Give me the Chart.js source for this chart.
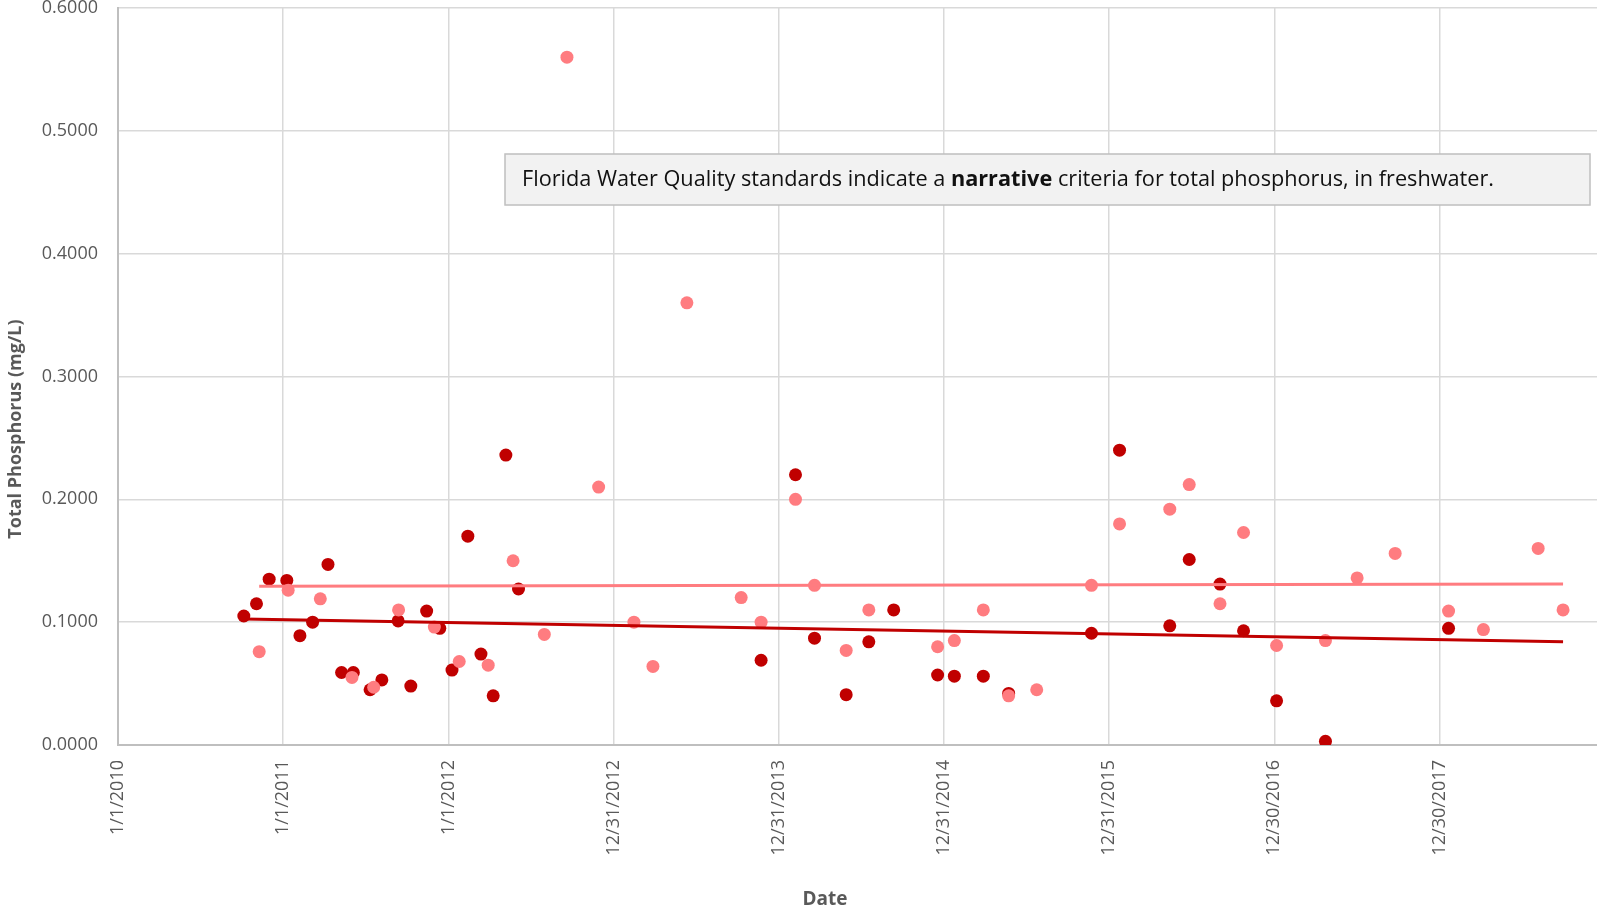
<!DOCTYPE html>
<html>
<head>
<meta charset="utf-8">
<title>Total Phosphorus</title>
<script src="https://cdn.jsdelivr.net/npm/chart.js@4.4.1/dist/chart.umd.min.js"></script>
<style>
  html, body { margin: 0; padding: 0; background: #ffffff; }
  canvas { display: block; }
</style>
</head>
<body>
<canvas id="tpChart" width="1597" height="910"></canvas>
<script>
// sampling dates and values
const darkDates = [
  "2010-10-06", "2010-11-03", "2010-12-01", "2011-01-09", "2011-02-07", "2011-03-07",
  "2011-04-10", "2011-05-10", "2011-06-05", "2011-07-12", "2011-08-07", "2011-09-12",
  "2011-10-10", "2011-11-14", "2011-12-13", "2012-01-09", "2012-02-13", "2012-03-13",
  "2012-04-09", "2012-05-07", "2012-06-04", "2013-11-22", "2014-02-06", "2014-03-20",
  "2014-05-29", "2014-07-18", "2014-09-11", "2014-12-17", "2015-01-23", "2015-03-28",
  "2015-05-23", "2015-11-22", "2016-01-23", "2016-05-13", "2016-06-25", "2016-09-01",
  "2016-10-23", "2017-01-04", "2017-04-22", "2018-01-19"
];
const darkValues = [
  0.105, 0.115, 0.135, 0.134, 0.089, 0.100,
  0.147, 0.059, 0.059, 0.045, 0.053, 0.101,
  0.048, 0.109, 0.095, 0.061, 0.170, 0.074,
  0.040, 0.236, 0.127, 0.069, 0.220, 0.087,
  0.041, 0.084, 0.110, 0.057, 0.056, 0.056,
  0.042, 0.091, 0.240, 0.097, 0.151, 0.131,
  0.093, 0.036, 0.003, 0.095
];

const pinkDates = [
  "2010-11-09", "2011-01-12", "2011-03-24", "2011-06-02", "2011-07-20", "2011-09-13",
  "2011-12-01", "2012-01-25", "2012-03-29", "2012-05-23", "2012-07-31", "2012-09-19",
  "2012-11-28", "2013-02-14", "2013-03-28", "2013-06-11", "2013-10-09", "2013-11-22",
  "2014-02-06", "2014-03-20", "2014-05-29", "2014-07-18", "2014-12-17", "2015-01-23",
  "2015-03-28", "2015-05-23", "2015-07-24", "2015-11-22", "2016-01-23", "2016-05-13",
  "2016-06-25", "2016-09-01", "2016-10-23", "2017-01-04", "2017-04-22", "2017-07-01",
  "2017-09-23", "2018-01-19", "2018-04-06", "2018-08-05", "2018-09-29"
];
const pinkValues = [
  0.076, 0.126, 0.119, 0.055, 0.047, 0.110,
  0.096, 0.068, 0.065, 0.150, 0.090, 0.560,
  0.210, 0.100, 0.064, 0.360, 0.120, 0.100,
  0.200, 0.130, 0.077, 0.110, 0.080, 0.085,
  0.110, 0.040, 0.045, 0.130, 0.180, 0.192,
  0.212, 0.115, 0.173, 0.081, 0.085, 0.136,
  0.156, 0.109, 0.094, 0.160, 0.110
];

// linear trendlines (end points as drawn)
const darkTrendDates = ["2010-10-06", "2018-09-29"];
const darkTrendValues = [0.1026, 0.0841];
const pinkTrendDates = ["2010-11-09", "2018-09-29"];
const pinkTrendValues = [0.1292, 0.1311];

const xTickLabels = [
  "1/1/2010", "1/1/2011", "1/1/2012", "12/31/2012", "12/31/2013",
  "12/31/2014", "12/31/2015", "12/30/2016", "12/30/2017"
];
const yTicks = [0, 0.1, 0.2, 0.3, 0.4, 0.5, 0.6];

const noteText = ["Florida Water Quality standards indicate a ", "narrative", " criteria for total phosphorus, in freshwater."];

const DARK = "#c00000";
const PINK = "#ff7c80";
const GREY_TEXT = "#595959";
const FONT = "'Open Sans', 'Noto Sans', sans-serif";

const DAY0 = Date.UTC(2010, 0, 1);
function dayNum(s) {
  const [y, m, d] = s.split("-").map(Number);
  return (Date.UTC(y, m - 1, d) - DAY0) / 86400000;
}
function toPoints(dates, values) {
  return dates.map((d, i) => ({ x: dayNum(d), y: values[i] }));
}

const notePlugin = {
  id: "notePlugin",
  afterDraw(chart) {
    const ctx = chart.ctx;
    ctx.save();

    // axis titles
    ctx.fillStyle = GREY_TEXT;
    ctx.font = `bold 18px ${FONT}`;
    ctx.textAlign = "center";
    ctx.textBaseline = "middle";
    ctx.save();
    ctx.translate(16, 429);
    ctx.rotate(-Math.PI / 2);
    ctx.fillText("Total Phosphorus (mg/L)", 0, 0);
    ctx.restore();
    ctx.font = `bold 19px ${FONT}`;
    ctx.textBaseline = "alphabetic";
    ctx.fillText("Date", 825, 905);

    // text box
    const bx = 505, by = 154, bw = 1085, bh = 51;
    ctx.fillStyle = "#f2f2f2";
    ctx.fillRect(bx, by, bw, bh);
    ctx.strokeStyle = "#bfbfbf";
    ctx.lineWidth = 1.5;
    ctx.strokeRect(bx, by, bw, bh);

    // fit the sentence to the width it takes in the picture
    const target = 972;
    const fonts = [`100px ${FONT}`, `bold 100px ${FONT}`, `100px ${FONT}`];
    let w = 0;
    noteText.forEach((t, i) => { ctx.font = fonts[i]; w += ctx.measureText(t).width; });
    const size = 100 * target / w;
    let x = 522;
    ctx.fillStyle = "#111111";
    ctx.textAlign = "left";
    ctx.textBaseline = "alphabetic";
    noteText.forEach((t, i) => {
      ctx.font = fonts[i].replace("100px", size.toFixed(2) + "px");
      ctx.fillText(t, x, 186);
      x += ctx.measureText(t).width;
    });
    ctx.restore();
  }
};

new Chart(document.getElementById("tpChart"), {
  type: "scatter",
  data: {
    datasets: [
      {
        label: "Dark trend",
        data: toPoints(darkTrendDates, darkTrendValues),
        showLine: true,
        borderColor: DARK,
        borderWidth: 3,
        pointRadius: 0,
        order: 0
      },
      {
        label: "Pink trend",
        data: toPoints(pinkTrendDates, pinkTrendValues),
        showLine: true,
        borderColor: PINK,
        borderWidth: 3,
        pointRadius: 0,
        order: 0
      },
      {
        label: "Pink",
        data: toPoints(pinkDates, pinkValues),
        backgroundColor: PINK,
        borderWidth: 0,
        pointRadius: 6.5,
        order: 1
      },
      {
        label: "Dark",
        data: toPoints(darkDates, darkValues),
        backgroundColor: DARK,
        borderWidth: 0,
        pointRadius: 6.5,
        order: 2
      }
    ]
  },
  options: {
    responsive: false,
    animation: false,
    devicePixelRatio: 1,
    layout: { autoPadding: false, padding: { top: 8, left: 0, right: 0, bottom: 0 } },
    plugins: {
      legend: { display: false },
      tooltip: { enabled: false }
    },
    scales: {
      x: {
        type: "linear",
        min: 0,
        max: 3268,
        afterBuildTicks: (scale) => {
          scale.ticks = xTickLabels.map((_, i) => ({ value: i * 365 }));
        },
        afterFit: (scale) => {
          scale.height = 165;
          scale.paddingLeft = 0;
          scale.paddingRight = 0;
        },
        grid: { color: "#d9d9d9", lineWidth: 1.5, drawTicks: false },
        border: { color: "#bfbfbf", width: 2 },
        ticks: {
          autoSkip: false,
          maxRotation: 90,
          minRotation: 90,
          padding: 15,
          color: GREY_TEXT,
          font: { family: FONT, size: 18 },
          callback: (v, i) => xTickLabels[i]
        }
      },
      y: {
        min: 0,
        max: 0.6,
        afterBuildTicks: (scale) => {
          scale.ticks = yTicks.map((v) => ({ value: v }));
        },
        afterFit: (scale) => {
          scale.width = 118;
          scale.paddingTop = 0;
          scale.paddingBottom = 0;
        },
        grid: { color: "#d9d9d9", lineWidth: 1.5, drawTicks: false },
        border: { color: "#bfbfbf", width: 2 },
        ticks: {
          padding: 20,
          color: GREY_TEXT,
          font: { family: FONT, size: 18 },
          callback: (v) => v.toFixed(4)
        }
      }
    }
  },
  plugins: [notePlugin]
});
</script>
</body>
</html>
